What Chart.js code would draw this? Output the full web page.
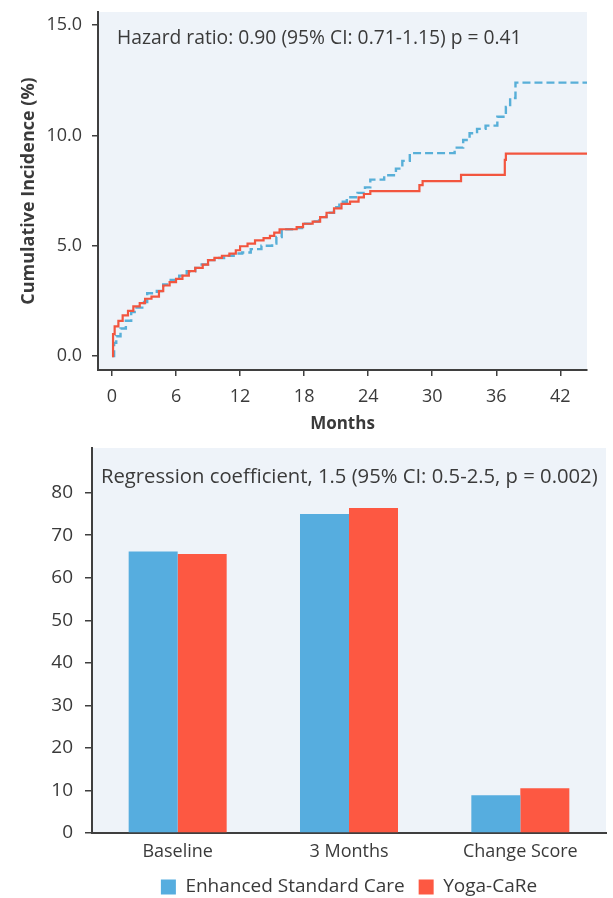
<!DOCTYPE html>
<html>
<head>
<meta charset="utf-8">
<script src="https://cdn.jsdelivr.net/npm/chart.js@4.4.1/dist/chart.umd.min.js"></script>
<style>
    html, body { margin: 0; padding: 0; background: #fff; }
    #topBox { position: absolute; left: 0; top: 0; width: 613px; height: 440px; }
    #bottomBox { position: absolute; left: 0; top: 440px; width: 613px; height: 458px; }
</style>
</head>
<body>
<div id="topBox"><canvas id="kmChart"></canvas></div>
<div id="bottomBox"><canvas id="qolChart"></canvas></div>
<script>
// Data kurva insiden kumulatif (bulan, %)
var ESC_MONTHS = [0, 0.2, 0.4, 0.8, 1.3, 1.8, 2.3, 3.0, 3.3, 4.2, 4.8, 5.5, 6.3, 7.0, 7.8, 8.4, 9.0, 9.6, 10.5, 11.4,
    12.2, 13.0, 14.0, 15.0, 15.4, 15.9, 17.0, 17.8, 18.8, 19.4, 20.1, 20.8, 21.3, 22.0, 23.0, 23.7, 24.2,
    25.5, 26.6, 27.2, 27.9, 32.1, 32.9, 33.5, 34.2, 35.0, 36.1, 36.9, 37.3, 37.8, 44.5];
var ESC_INCIDENCE = [0, 0.6, 0.9, 1.25, 1.6, 2.0, 2.2, 2.45, 2.85, 2.95, 3.25, 3.45, 3.65, 3.85, 4.0, 4.15, 4.35, 4.45, 4.55, 4.65,
    4.7, 4.85, 5.0, 5.1, 5.4, 5.75, 5.8, 6.0, 6.1, 6.3, 6.5, 6.75, 7.0, 7.2, 7.4, 7.65, 8.0,
    8.2, 8.5, 8.85, 9.2, 9.45, 9.8, 10.1, 10.3, 10.45, 10.85, 11.3, 11.7, 12.4, 12.4];

var YOGA_MONTHS = [0, 0.1, 0.25, 0.6, 1.0, 1.5, 2.0, 2.6, 3.1, 3.7, 4.4, 4.8, 5.4, 6.0, 6.6, 7.2, 7.8, 8.5, 9.0, 9.6,
    10.3, 11.0, 11.6, 12.0, 12.7, 13.4, 14.2, 14.8, 15.2, 15.7, 17.3, 17.9, 18.8, 19.5, 20.1, 20.8, 21.5,
    22.3, 23.1, 23.6, 24.2, 28.8, 29.1, 32.7, 36.8, 36.9, 44.5];
var YOGA_INCIDENCE = [0, 1.0, 1.35, 1.6, 1.85, 2.05, 2.25, 2.4, 2.6, 2.7, 2.95, 3.2, 3.35, 3.5, 3.65, 3.85, 4.0, 4.15, 4.35, 4.45,
    4.55, 4.65, 4.8, 4.98, 5.1, 5.25, 5.35, 5.45, 5.6, 5.75, 5.85, 6.0, 6.1, 6.3, 6.5, 6.7, 6.9,
    7.0, 7.2, 7.35, 7.48, 7.75, 7.93, 8.22, 8.9, 9.18, 9.18];

var MONTH_TICKS = [0, 6, 12, 18, 24, 30, 36, 42];
var INCIDENCE_TICKS = [0, 5, 10, 15];

// Data skor (bar)
var QOL_CATEGORIES = ['Baseline', '3 Months', 'Change Score'];
var QOL_ESC = [66.2, 75.0, 8.9];
var QOL_YOGA = [65.6, 76.4, 10.5];
var QOL_TICKS = [0, 10, 20, 30, 40, 50, 60, 70, 80];

var SERIES_NAMES = ['Enhanced Standard Care', 'Yoga-CaRe'];

var FONT = '"Open Sans", "DejaVu Sans", sans-serif';
var TEXT_COLOR = '#3a3a3a';
var AXIS_COLOR = '#3f3f3f';
var BLUE = '#56addf';
var RED = '#fd5842';

// Latar area plot
var plotBg = {
    id: 'plotBg',
    beforeDraw: function (chart) {
        var a = chart.chartArea, ctx = chart.ctx;
        ctx.save();
        ctx.fillStyle = '#eef3f9';
        ctx.fillRect(a.left, a.top, a.right - a.left, a.bottom - a.top);
        ctx.restore();
    }
};

// Teks keterangan di dalam plot
var noteText = {
    id: 'noteText',
    afterDraw: function (chart, args, opts) {
        if (!opts || !opts.text) return;
        var ctx = chart.ctx, a = chart.chartArea;
        var size = opts.size;
        ctx.save();
        ctx.font = size + 'px ' + FONT;
        if (opts.width) {
            size = size * opts.width / ctx.measureText(opts.text).width;
            ctx.font = size + 'px ' + FONT;
        }
        ctx.fillStyle = TEXT_COLOR;
        ctx.textBaseline = 'middle';
        ctx.textAlign = 'left';
        ctx.fillText(opts.text, a.left + opts.dx, a.top + opts.dy);
        ctx.restore();
    }
};

function toPoints(xs, ys) {
    return xs.map(function (x, i) { return { x: x, y: ys[i] }; });
}

function fixTicks(values) {
    return function (scale) {
        scale.ticks = values.map(function (v) { return { value: v }; });
    };
}

// Lebar sumbu Y tetap, tanpa padding label atas/bawah
function fixWidth(w) {
    return function (s) {
        s.width = w;
        s.paddingTop = 0;
        s.paddingBottom = 0;
    };
}

// Grafik insiden kumulatif
new Chart(document.getElementById('kmChart'), {
    type: 'line',
    data: {
        datasets: [
            {
                label: SERIES_NAMES[1],
                data: toPoints(YOGA_MONTHS, YOGA_INCIDENCE),
                borderColor: '#f2553f',
                borderWidth: 2.2,
                stepped: 'before',
                pointRadius: 0,
                fill: false
            },
            {
                label: SERIES_NAMES[0],
                data: toPoints(ESC_MONTHS, ESC_INCIDENCE),
                borderColor: '#58afd8',
                borderWidth: 2.4,
                borderDash: [8, 4],
                stepped: 'before',
                pointRadius: 0,
                fill: false
            }
        ]
    },
    options: {
        responsive: true,
        maintainAspectRatio: false,
        animation: false,
        layout: { padding: { top: 12, right: 26, left: 0, bottom: 0 } },
        plugins: {
            legend: { display: false },
            tooltip: { enabled: false },
            noteText: { text: 'Hazard ratio: 0.90 (95% CI: 0.71-1.15) p = 0.41', size: 19, width: 405, dx: 19, dy: 27 }
        },
        scales: {
            x: {
                type: 'linear',
                min: -1.31,
                max: 44.5,
                afterBuildTicks: fixTicks(MONTH_TICKS),
                afterFit: function (s) { s.height = 70; },
                grid: { drawOnChartArea: false, drawTicks: true, tickLength: 6, color: AXIS_COLOR, lineWidth: 1.5 },
                border: { color: AXIS_COLOR, width: 2 },
                ticks: { color: TEXT_COLOR, font: { family: FONT, size: 18 }, padding: 10, maxRotation: 0 },
                title: { display: true, text: 'Months', color: TEXT_COLOR, font: { family: FONT, size: 17, weight: 'bold' }, padding: { top: 0, bottom: 6 } }
            },
            y: {
                min: -0.63,
                max: 15.6,
                afterBuildTicks: fixTicks(INCIDENCE_TICKS),
                afterFit: fixWidth(98),
                grid: { drawOnChartArea: false, drawTicks: true, tickLength: 6, color: AXIS_COLOR, lineWidth: 1.5 },
                border: { color: AXIS_COLOR, width: 2 },
                ticks: { color: TEXT_COLOR, font: { family: FONT, size: 18 }, padding: 10, callback: function (v) { return v.toFixed(1); } },
                title: { display: true, text: 'Cumulative Incidence (%)', color: TEXT_COLOR, font: { family: FONT, size: 18, weight: 'bold' }, padding: { top: 18, bottom: 0 } }
            }
        }
    },
    plugins: [plotBg, noteText]
});

// Grafik bar skor
new Chart(document.getElementById('qolChart'), {
    type: 'bar',
    data: {
        labels: QOL_CATEGORIES,
        datasets: [
            { label: SERIES_NAMES[0], data: QOL_ESC, backgroundColor: BLUE },
            { label: SERIES_NAMES[1], data: QOL_YOGA, backgroundColor: RED }
        ]
    },
    options: {
        responsive: true,
        maintainAspectRatio: false,
        animation: false,
        categoryPercentage: 0.572,
        barPercentage: 1.0,
        layout: { padding: { top: 8, right: 7, left: 0, bottom: -8.5 } },
        plugins: {
            tooltip: { enabled: false },
            legend: {
                position: 'bottom',
                fullSize: false,
                labels: { boxWidth: 15, boxHeight: 15, padding: 14, color: TEXT_COLOR, font: { family: FONT, size: 19 } }
            },
            noteText: { text: 'Regression coefficient, 1.5 (95% CI: 0.5-2.5, p = 0.002)', size: 19, width: 497, dx: 9, dy: 29 }
        },
        scales: {
            x: {
                afterFit: function (s) { s.height = 30.5; },
                grid: { drawOnChartArea: false, drawTicks: false, color: AXIS_COLOR },
                border: { color: AXIS_COLOR, width: 2 },
                ticks: { color: TEXT_COLOR, font: { family: FONT, size: 18 }, padding: 8 }
            },
            y: {
                min: 0,
                max: 90.5,
                afterBuildTicks: fixTicks(QOL_TICKS),
                afterFit: fixWidth(92),
                grid: { drawOnChartArea: false, drawTicks: true, tickLength: 7, color: AXIS_COLOR, lineWidth: 1.5 },
                border: { color: AXIS_COLOR, width: 2 },
                ticks: { color: TEXT_COLOR, font: { family: FONT, size: 19 }, padding: 12 }
            }
        }
    },
    plugins: [plotBg, noteText]
});
</script>
</body>
</html>
